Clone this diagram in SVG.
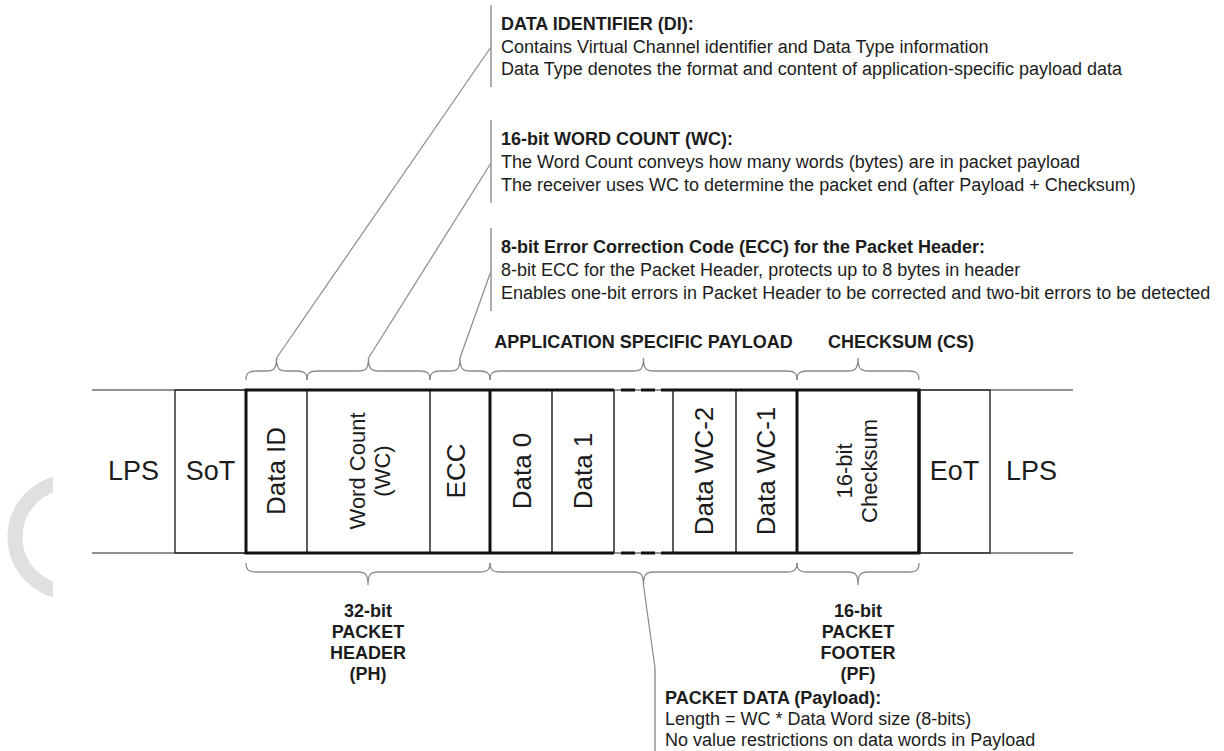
<svg xmlns="http://www.w3.org/2000/svg" width="1224" height="751" viewBox="0 0 1224 751">
  <defs>
    <style>
      text { font-family: "Liberation Sans", Arial, Helvetica, sans-serif; fill: #1c1c1c; }
      .big { font-size: 27px; text-anchor: middle; }
      .cell { font-size: 26px; text-anchor: middle; }
      .small { font-size: 22px; text-anchor: middle; }
      .desc { font-size: 18px; }
      .head { font-size: 18px; font-weight: bold; }
      .lbl { font-size: 18px; font-weight: bold; text-anchor: middle; }
      .lane { stroke: #6e6e6e; stroke-width: 1.5; fill: none; }
      .box { stroke: #333; stroke-width: 1.5; fill: none; }
      .div { stroke: #333; stroke-width: 1.6; }
      .thick { stroke: #111; stroke-width: 3; fill: none; }
      .dash { stroke: #111; stroke-width: 3; stroke-dasharray: 14 6; }
      .brace { stroke: #8a8a8a; stroke-width: 1.3; fill: none; }
      .lead { stroke: #8a8a8a; stroke-width: 1.2; fill: none; }
      .bar { stroke: #9a9a9a; stroke-width: 1.6; }
    </style>
    <clipPath id="arcClip"><rect x="0" y="400" width="53" height="260"/></clipPath>
  </defs>

  <rect width="1224" height="751" fill="#ffffff"/>
  <!-- decorative grey ring fragment at the left edge -->
  <circle cx="70" cy="537" r="55" fill="none" stroke="#e0e0e0" stroke-width="15" clip-path="url(#arcClip)"/>

  <!-- lane borders -->
  <g id="lane">
    <line class="lane" x1="92" y1="390" x2="1073" y2="390"/>
    <line class="lane" x1="92" y1="553" x2="1073" y2="553"/>
  </g>

  <!-- packet cells -->
  <g id="lps-start">
    <text class="big" x="133.5" y="480">LPS</text>
  </g>
  <g id="sot">
    <rect class="box" x="175" y="390" width="71" height="163"/>
    <text class="big" x="210.5" y="480">SoT</text>
  </g>
  <g id="data-id">
    <text class="cell" transform="translate(285,471) rotate(-90)">Data ID</text>
  </g>
  <g id="word-count">
    <line class="div" x1="307" y1="390" x2="307" y2="553"/>
    <text class="small" transform="translate(365,471) rotate(-90)">Word Count</text>
    <text class="small" transform="translate(390,471) rotate(-90)">(WC)</text>
  </g>
  <g id="ecc">
    <line class="div" x1="430" y1="390" x2="430" y2="553"/>
    <text class="cell" transform="translate(465,471) rotate(-90)">ECC</text>
  </g>
  <g id="data-0">
    <text class="cell" transform="translate(531,471) rotate(-90)">Data 0</text>
  </g>
  <g id="data-1">
    <line class="div" x1="552" y1="390" x2="552" y2="553"/>
    <line class="div" x1="614" y1="390" x2="614" y2="553"/>
    <text class="cell" transform="translate(592,471) rotate(-90)">Data 1</text>
  </g>
  <g id="data-gap">
    <line class="dash" x1="621" y1="390" x2="673" y2="390"/>
    <line class="dash" x1="621" y1="553" x2="673" y2="553"/>
  </g>
  <g id="data-wc-2">
    <line class="div" x1="673" y1="390" x2="673" y2="553"/>
    <text class="cell" transform="translate(713,471) rotate(-90)">Data WC-2</text>
  </g>
  <g id="data-wc-1">
    <line class="div" x1="736" y1="390" x2="736" y2="553"/>
    <text class="cell" transform="translate(775,471) rotate(-90)">Data WC-1</text>
  </g>
  <g id="checksum">
    <text class="small" transform="translate(852,471) rotate(-90)">16-bit</text>
    <text class="small" transform="translate(877,471) rotate(-90)">Checksum</text>
  </g>
  <g id="packet-frame">
    <path class="thick" d="M614,390 H246 V553 H614 M673,390 H919 V553 H673"/>
    <line class="thick" x1="490" y1="390" x2="490" y2="553"/>
    <line class="thick" x1="797" y1="390" x2="797" y2="553"/>
  </g>
  <g id="eot">
    <rect class="box" x="919" y="390" width="71" height="163"/>
    <line class="thick" x1="919" y1="390" x2="919" y2="553"/>
    <text class="big" x="954.5" y="480">EoT</text>
  </g>
  <g id="lps-end">
    <text class="big" x="1031.5" y="480">LPS</text>
  </g>

  <!-- braces, leader lines and call-out bars -->
  <g id="connectors">
    <!-- upper braces -->
    <path class="brace" d="M246,380 C246,373 249,371 256,371 L266.5,371 C273.5,371 276.5,369 276.5,358 C276.5,369 279.5,371 286.5,371 L297,371 C304,371 307,373 307,380"/>
    <path class="brace" d="M307,380 C307,373 310,371 317,371 L358.5,371 C365.5,371 368.5,369 368.5,358 C368.5,369 371.5,371 378.5,371 L420,371 C427,371 430,373 430,380"/>
    <path class="brace" d="M430,380 C430,373 433,371 440,371 L450,371 C457,371 460,369 460,358 C460,369 463,371 470,371 L480,371 C487,371 490,373 490,380"/>
    <path class="brace" d="M490,380 C490,373 493,371 500,371 L633.5,371 C640.5,371 643.5,369 643.5,358 C643.5,369 646.5,371 653.5,371 L787,371 C794,371 797,373 797,380"/>
    <path class="brace" d="M797,380 C797,373 800,371 807,371 L848,371 C855,371 858,369 858,358 C858,369 861,371 868,371 L909,371 C916,371 919,373 919,380"/>
    <!-- lower braces -->
    <path class="brace" d="M246,563 C246,570 249,572 256,572 L358,572 C365,572 368,574 368,585 C368,574 371,572 378,572 L480,572 C487,572 490,570 490,563"/>
    <path class="brace" d="M490,563 C490,570 493,572 500,572 L633.5,572 C640.5,572 643.5,574 643.5,585 C643.5,574 646.5,572 653.5,572 L787,572 C794,572 797,570 797,563"/>
    <path class="brace" d="M797,563 C797,570 800,572 807,572 L848,572 C855,572 858,574 858,585 C858,574 861,572 868,572 L909,572 C916,572 919,570 919,563"/>
    <!-- leaders -->
    <line class="lead" x1="276.5" y1="358" x2="491" y2="47"/>
    <line class="lead" x1="368.5" y1="358" x2="491" y2="163"/>
    <line class="lead" x1="460" y1="358" x2="491" y2="271"/>
    <line class="lead" x1="643.5" y1="585" x2="655" y2="668"/>
    <!-- call-out bars -->
    <line class="bar" x1="491" y1="5" x2="491" y2="87"/>
    <line class="bar" x1="491" y1="120" x2="491" y2="203"/>
    <line class="bar" x1="491" y1="228" x2="491" y2="311"/>
    <line class="bar" x1="655" y1="668" x2="655" y2="751"/>
  </g>

  <!-- call-out texts -->
  <g id="note-di">
    <text class="head" x="501" y="30">DATA IDENTIFIER (DI):</text>
    <text class="desc" x="501" y="52.5">Contains Virtual Channel identifier and Data Type information</text>
    <text class="desc" x="501" y="75">Data Type denotes the format and content of application-specific payload data</text>
  </g>
  <g id="note-wc">
    <text class="head" x="501" y="145">16-bit WORD COUNT (WC):</text>
    <text class="desc" x="501" y="168">The Word Count conveys how many words (bytes) are in packet payload</text>
    <text class="desc" x="501" y="191">The receiver uses WC to determine the packet end (after Payload + Checksum)</text>
  </g>
  <g id="note-ecc">
    <text class="head" x="501" y="253">8-bit Error Correction Code (ECC) for the Packet Header:</text>
    <text class="desc" x="501" y="276">8-bit ECC for the Packet Header, protects up to 8 bytes in header</text>
    <text class="desc" x="501" y="299">Enables one-bit errors in Packet Header to be corrected and two-bit errors to be detected</text>
  </g>
  <g id="label-payload">
    <text class="lbl" x="643.5" y="348">APPLICATION SPECIFIC PAYLOAD</text>
  </g>
  <g id="label-checksum">
    <text class="head" x="828" y="348">CHECKSUM (CS)</text>
  </g>
  <g id="label-ph">
    <text class="lbl" x="368" y="617">32-bit</text>
    <text class="lbl" x="368" y="638">PACKET</text>
    <text class="lbl" x="368" y="659">HEADER</text>
    <text class="lbl" x="368" y="680">(PH)</text>
  </g>
  <g id="label-pf">
    <text class="lbl" x="858" y="617">16-bit</text>
    <text class="lbl" x="858" y="638">PACKET</text>
    <text class="lbl" x="858" y="659">FOOTER</text>
    <text class="lbl" x="858" y="680">(PF)</text>
  </g>
  <g id="note-data">
    <text class="head" x="665" y="704">PACKET DATA (Payload):</text>
    <text class="desc" x="665" y="725">Length = WC * Data Word size (8-bits)</text>
    <text class="desc" x="665" y="746">No value restrictions on data words in Payload</text>
  </g>
</svg>
